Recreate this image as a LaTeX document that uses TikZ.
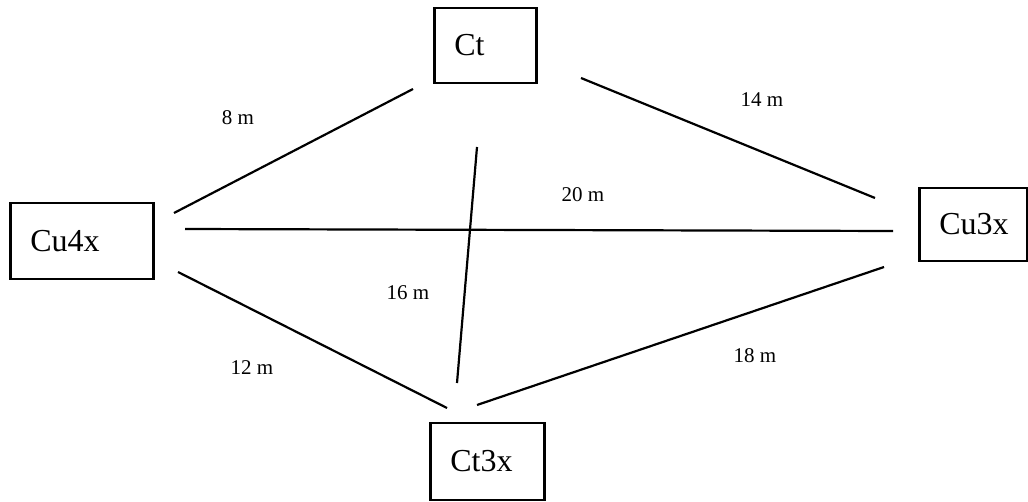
\documentclass[tikz,border=0pt]{standalone}
\usepackage{fontspec}
\setmainfont{Liberation Serif}
\tikzset{
  site/.style={draw,line width=1.3pt,rectangle,anchor=west,align=left,
    inner xsep=10pt,inner ysep=0pt,font=\fontsize{16}{19}\selectfont},
  dist/.style={inner sep=1pt,font=\fontsize{10.5}{12}\selectfont},
  link/.style={line width=1.1pt}
}

\begin{document}
\begin{tikzpicture}[x=0.5pt,y=-0.5pt]
\useasboundingbox (0,0) rectangle (1028,502);

% sites
\node[site,text width=31pt,minimum height=37.5pt] (Ct) at (433,45.5) {Ct};
\node[site,text width=51.5pt,minimum height=38pt] (Cu4x) at (9,241) {Cu4x};
\node[site,text width=34pt,minimum height=36.5pt] (Cu3x) at (918,224.5) {Cu3x};
\node[site,text width=37pt,minimum height=38.5pt] (Ct3x) at (429,461.5) {Ct3x};

% line ends
\coordinate (Ct-w) at (413,89);
\coordinate (Ct-e) at (581,78);
\coordinate (Ct-s) at (477,147);
\coordinate (Cu4x-n) at (174,213);
\coordinate (Cu4x-e) at (185,229);
\coordinate (Cu4x-s) at (178,272);
\coordinate (Cu3x-n) at (875,198);
\coordinate (Cu3x-w) at (893,231);
\coordinate (Cu3x-s) at (884,267);
\coordinate (Ct3x-n) at (457,383);
\coordinate (Ct3x-w) at (447,408);
\coordinate (Ct3x-e) at (477,405);

\draw[link] (Ct-w) -- (Cu4x-n);
\draw[link] (Ct-e) -- (Cu3x-n);
\draw[link] (Cu4x-e) -- (Cu3x-w);
\draw[link] (Ct-s) -- (Ct3x-n);
\draw[link] (Cu4x-s) -- (Ct3x-w);
\draw[link] (Ct3x-e) -- (Cu3x-s);

% distances
\node[dist] (d8) at (238,118) {8 m};
\node[dist] (d14) at (762,100) {14 m};
\node[dist] (d20) at (583,195) {20 m};
\node[dist] (d16) at (408,293) {16 m};
\node[dist] (d12) at (252,368) {12 m};
\node[dist] (d18) at (755,356) {18 m};

\end{tikzpicture}
\end{document}
